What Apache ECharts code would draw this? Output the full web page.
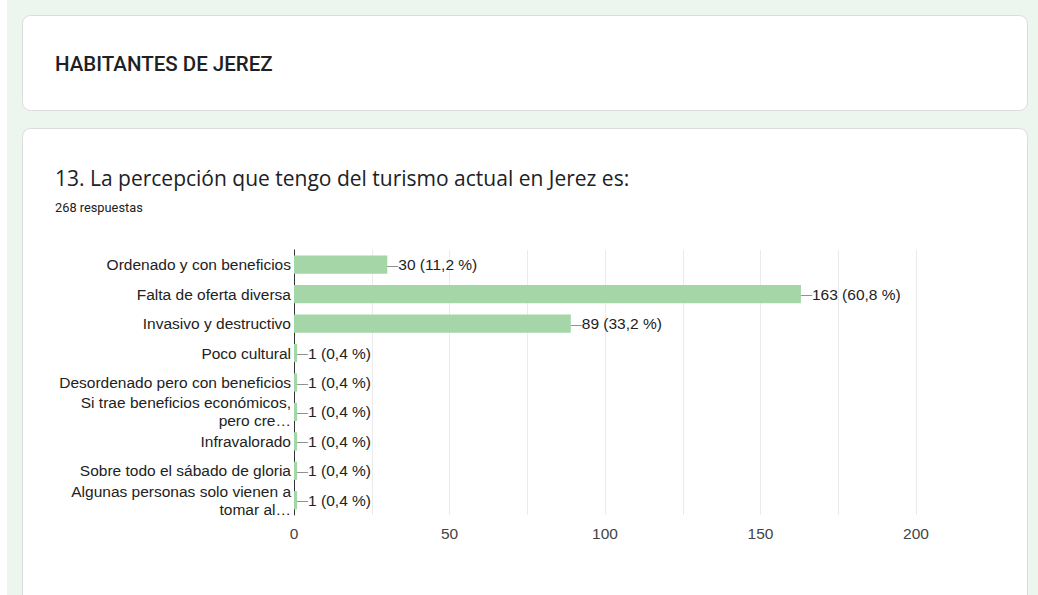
<!DOCTYPE html>
<html>
<head>
<meta charset="utf-8">
<script src="https://cdn.jsdelivr.net/npm/echarts@6/dist/echarts.min.js"></script>
<style>
html,body{margin:0;padding:0;background:#fff;}
#c{width:1038px;height:595px;}
</style>
</head>
<body>
<div id="c"></div>
<script>
var sectionTitle = 'HABITANTES DE JEREZ';
var questionTitle = '13. La percepción que tengo del turismo actual en Jerez es:';
var responsesText = '268 respuestas';
var categories = [
  'Ordenado y con beneficios',
  'Falta de oferta diversa',
  'Invasivo y destructivo',
  'Poco cultural',
  'Desordenado pero con beneficios',
  'Si trae beneficios económicos,\npero cre…',
  'Infravalorado',
  'Sobre todo el sábado de gloria',
  'Algunas personas solo vienen a\ntomar al…'
];
var counts = [30, 163, 89, 1, 1, 1, 1, 1, 1];
var percents = ['11,2', '60,8', '33,2', '0,4', '0,4', '0,4', '0,4', '0,4', '0,4'];
var xTicks = [0, 50, 100, 150, 200];

var FS = 15.5;
var chart = echarts.init(document.getElementById('c'), null, {renderer: 'svg'});
chart.setOption({
  animation: false,
  backgroundColor: '#ffffff',
  graphic: [
    {type: 'rect', z: -10, shape: {x: 7, y: 0, width: 1031, height: 595}, style: {fill: '#ecf5ee'}},
    {type: 'rect', z: -9, shape: {x: 22.5, y: 15.5, width: 1005, height: 95, r: 8}, style: {fill: '#ffffff', stroke: '#dadce0', lineWidth: 1}},
    {type: 'rect', z: -9, shape: {x: 22.5, y: 128.5, width: 1005, height: 520, r: 8}, style: {fill: '#ffffff', stroke: '#dadce0', lineWidth: 1}}
  ],
  title: [
    {text: sectionTitle, left: 55, top: 53, padding: 0, textStyle: {fontFamily: 'Roboto', fontSize: 20.5, fontWeight: 500, color: '#202124'}},
    {text: questionTitle, left: 55, top: 167, padding: 0, textStyle: {fontFamily: 'Open Sans', fontSize: 21, fontWeight: 'normal', color: '#202124'}},
    {text: responsesText, left: 55, top: 201, padding: 0, textStyle: {fontFamily: 'Roboto', fontSize: 12.8, fontWeight: 'normal', color: '#202124'}}
  ],
  grid: {left: 294, right: 122, top: 250, height: 265, containLabel: false},
  xAxis: {
    type: 'value', min: 0, max: 200, interval: 25,
    axisLine: {show: false}, axisTick: {show: false},
    splitLine: {show: true, lineStyle: {color: '#ebebeb', width: 1}},
    axisLabel: {
      margin: 10, color: '#444', fontFamily: 'Arial, Liberation Sans', fontSize: FS,
      formatter: function (v) { return xTicks.indexOf(v) >= 0 ? String(v) : ''; }
    }
  },
  yAxis: {
    type: 'category', data: categories, inverse: true,
    axisLine: {show: true, lineStyle: {color: '#333', width: 1}},
    axisTick: {show: false},
    axisLabel: {margin: 3, color: '#222', fontFamily: 'Arial, Liberation Sans', fontSize: FS, lineHeight: 18, align: 'right'}
  },
  series: [{
    type: 'bar', data: counts, barWidth: '61.8%',
    itemStyle: {color: '#a5d6a7'},
    label: {
      show: true, position: 'right', distance: 0,
      color: '#222', fontFamily: 'Arial, Liberation Sans', fontSize: FS,
      formatter: function (p) { return '{d|—}' + p.value + ' (' + percents[p.dataIndex] + ' %)'; },
      rich: {d: {color: '#777', fontSize: 11}}
    }
  }]
});
</script>
</body>
</html>
